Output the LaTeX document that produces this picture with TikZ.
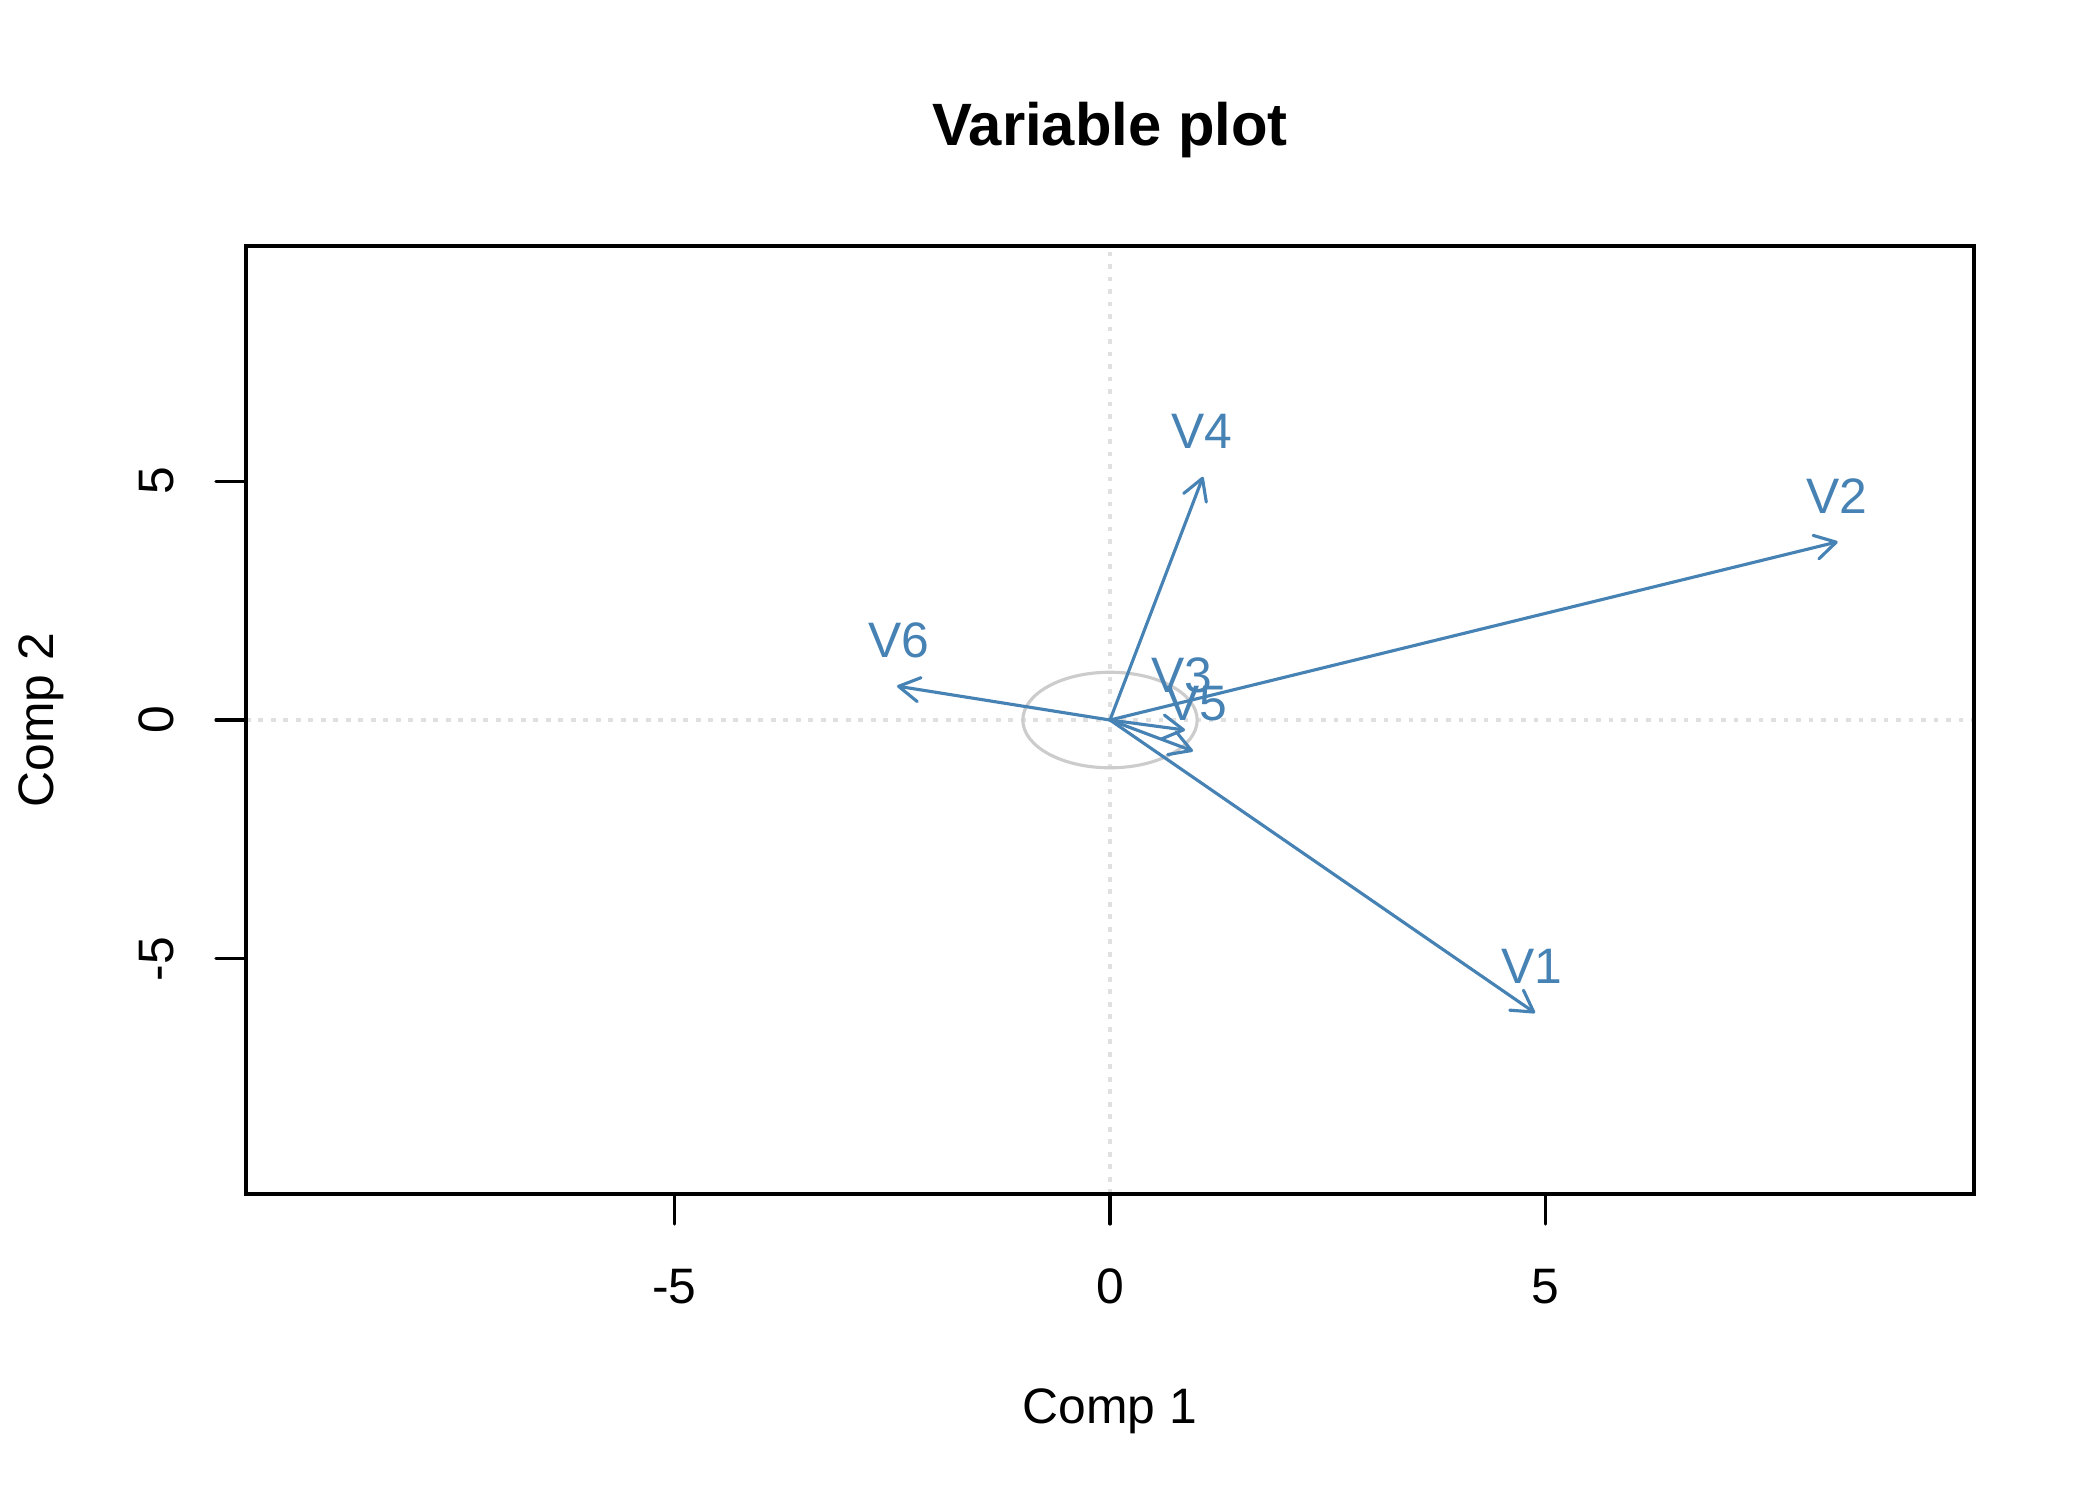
\documentclass[tikz,border=0pt]{standalone}
\usepackage{fontspec}
\setmainfont{Liberation Sans}
\usetikzlibrary{arrows.meta}
\definecolor{steel}{RGB}{70,130,180}
\definecolor{ringgray}{RGB}{204,204,204}
\definecolor{guidegray}{RGB}{224,224,224}
\begin{document}
\begin{tikzpicture}[x=0.24bp, y=-0.24bp,
  every node/.style={inner sep=0pt, outer sep=0pt, font=\fontsize{12}{14}\selectfont},
  frame/.style={line width=0.75bp, black},
  tick/.style={line width=0.75bp, black, line cap=round},
  guide/.style={guidegray, line width=0.75bp, dash pattern=on 1.1bp off 1.9bp},
  ring/.style={ringgray, line width=0.75bp},
  vec/.style={steel, line width=0.75bp, line cap=round,
    -{Straight Barb[length=5bp, width=5.8bp, line width=0.75bp, round]}},
  vlab/.style={text=steel, anchor=base},
  ticklab/.style={anchor=base},
  yticklab/.style={anchor=base, rotate=90}]
  \fill[white] (0,0) rectangle (2100,1500);
  \useasboundingbox (0,0) rectangle (2100,1500);

  % title
  \node[anchor=base, font=\fontsize{14.4}{16}\selectfont\bfseries] (title) at (1110,145) {Variable plot};

  % guides and ring (data coordinates)
  \begin{scope}[shift={(1110,720)}, x=20.916bp, y=11.467bp]
    \coordinate (O) at (0,0);
    \coordinate (gl) at (-9.914,0);
    \coordinate (gr) at (9.914,0);
    \coordinate (gt) at (0,9.92);
    \coordinate (gb) at (0,-9.92);
    \draw[guide] (gl) -- (gr);
    \draw[guide] (gb) -- (gt);
    \draw[ring] (O) ellipse [x radius=20.916bp, y radius=11.467bp];

    \coordinate (t1) at (4.877,-6.13);
    \coordinate (t2) at (8.35,3.73);
    \coordinate (t3) at (0.861,-0.21);
    \coordinate (t4) at (1.067,5.09);
    \coordinate (t5) at (0.952,-0.65);
    \coordinate (t6) at (-2.444,0.71);
    \draw[vec] (O) -- (t1);
    \draw[vec] (O) -- (t2);
    \draw[vec] (O) -- (t3);
    \draw[vec] (O) -- (t4);
    \draw[vec] (O) -- (t5);
    \draw[vec] (O) -- (t6);
  \end{scope}

  % vector labels
  \node[vlab] (l1) at (1532,983) {V1};
  \node[vlab] (l2) at (1837,513) {V2};
  \node[vlab] (l3) at (1182,692) {V3};
  \node[vlab] (l4) at (1202,448) {V4};
  \node[vlab] (l5) at (1197,720) {V5};
  \node[vlab] (l6) at (899,657) {V6};

  % frame
  \draw[frame] (246,246) rectangle (1974,1194);

  % x axis ticks
  \coordinate (xa1) at (674.25,1194); \coordinate (xb1) at (674.25,1224);
  \coordinate (xa2) at (1110,1194);   \coordinate (xb2) at (1110,1224);
  \coordinate (xa3) at (1545.75,1194);\coordinate (xb3) at (1545.75,1224);
  \draw[tick] (xa1) -- (xb1);
  \draw[tick] (xa2) -- (xb2);
  \draw[tick] (xa3) -- (xb3);
  \node[ticklab] (xl1) at (674.25,1303) {-5};
  \node[ticklab] (xl2) at (1110,1303) {0};
  \node[ticklab] (xl3) at (1545.75,1303) {5};

  % y axis ticks
  \coordinate (ya1) at (246,481.1); \coordinate (yb1) at (216,481.1);
  \coordinate (ya2) at (246,720);   \coordinate (yb2) at (216,720);
  \coordinate (ya3) at (246,958.9); \coordinate (yb3) at (216,958.9);
  \draw[tick] (ya1) -- (yb1);
  \draw[tick] (ya2) -- (yb2);
  \draw[tick] (ya3) -- (yb3);
  \node[yticklab] (yl1) at (173,481.1) {5};
  \node[yticklab] (yl2) at (173,720) {0};
  \node[yticklab] (yl3) at (173,958.9) {-5};

  % axis titles
  \node[anchor=base] (xt) at (1110,1423) {Comp 1};
  \node[anchor=base, rotate=90] (yt) at (53,720) {Comp 2};
\end{tikzpicture}
\end{document}
